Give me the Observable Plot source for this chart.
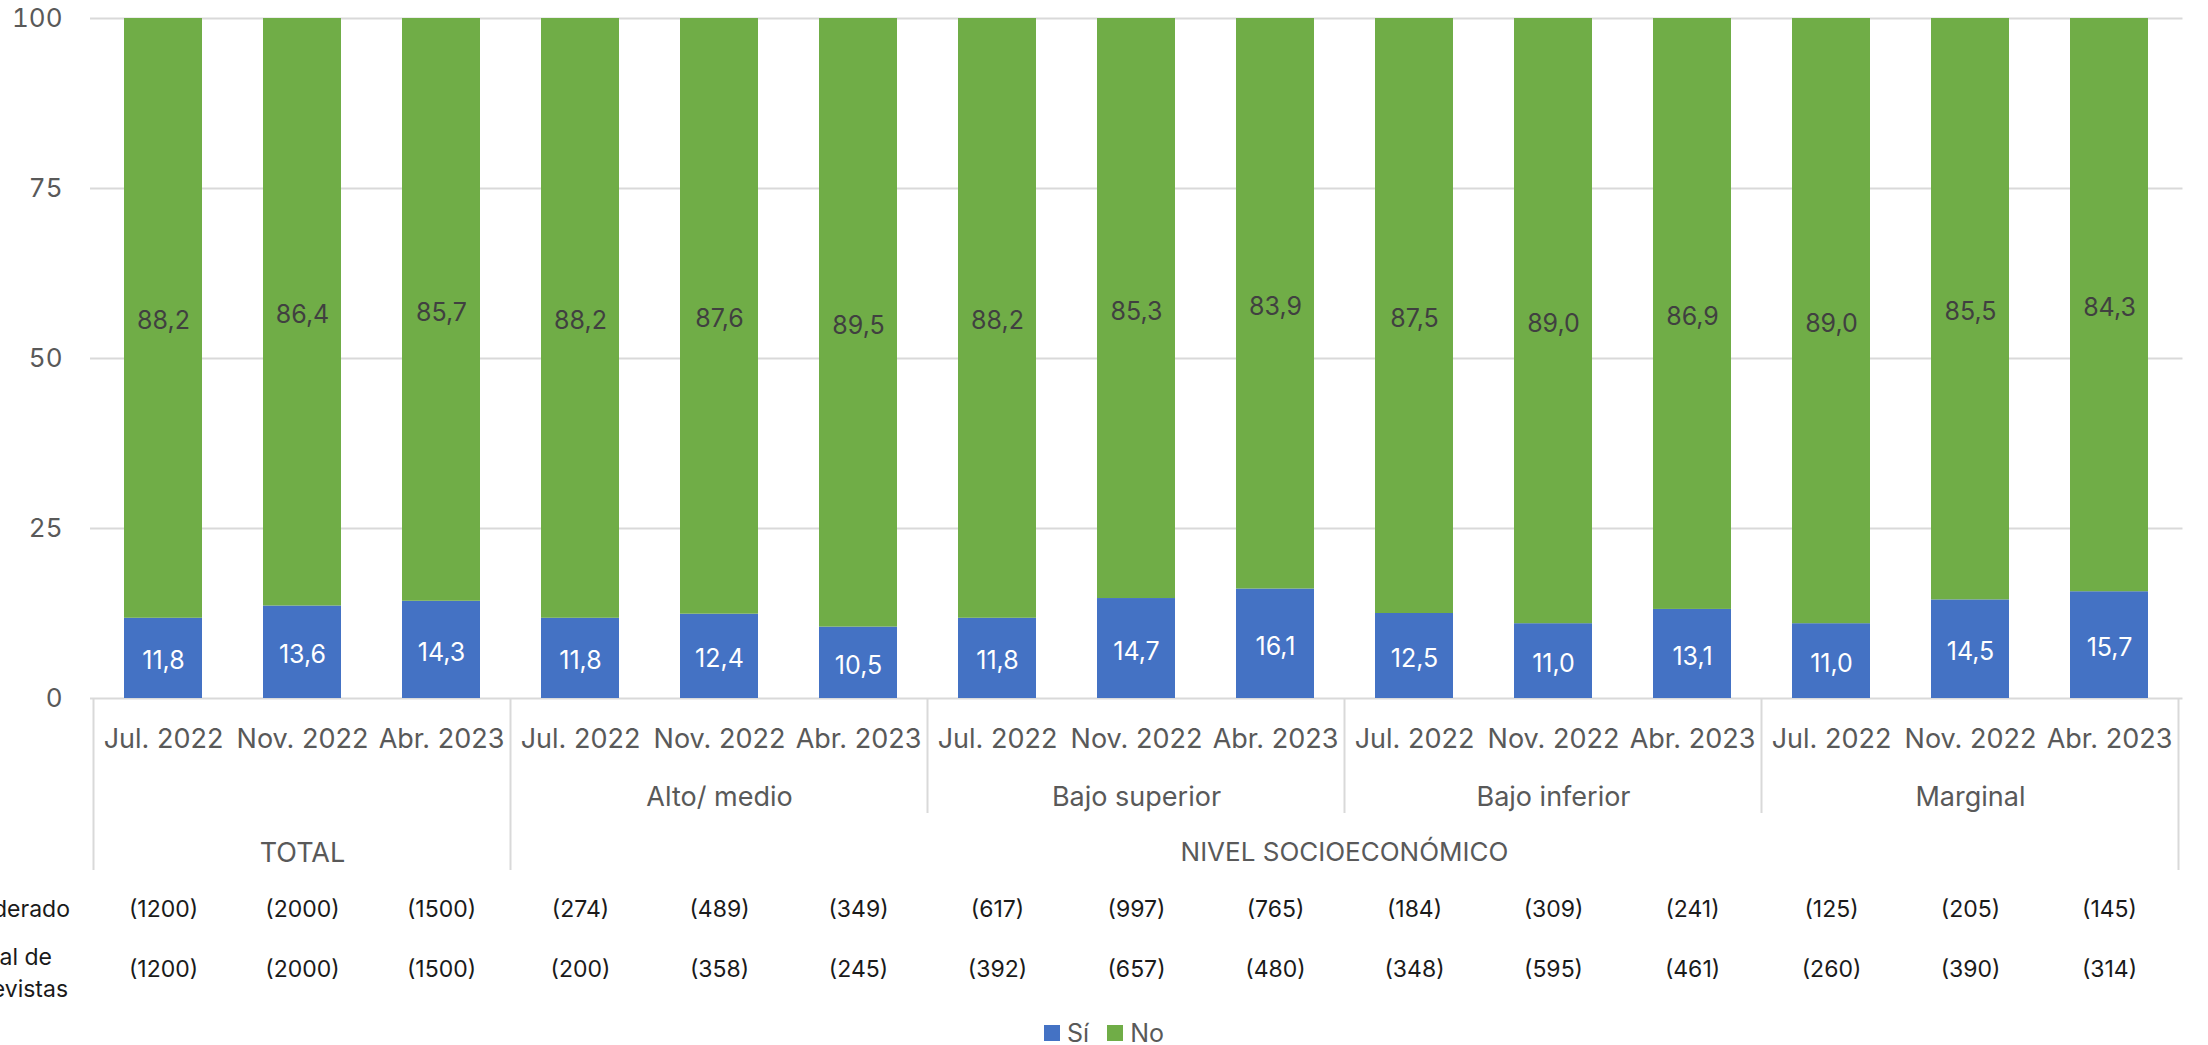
<!DOCTYPE html>
<html>
<head>
<meta charset="utf-8">
<script src="https://cdn.jsdelivr.net/npm/d3@7"></script>
<script src="https://cdn.jsdelivr.net/npm/@observablehq/plot@0.6"></script>
<style>
  html, body { margin: 0; padding: 0; background: #fff; }
  body { width: 2208px; height: 1045px; overflow: hidden; font-family: Inter, "Noto Sans", sans-serif; }
  #legend { margin-top: 4px; height: 33px; display: flex; justify-content: center; align-items: center; font-size: 25px; color: #595959; }
  .item { display: flex; align-items: center; margin: 0 9px; }
  .sw { width: 16px; height: 16px; margin-right: 7px; }
</style>
</head>
<body>
<div id="chart"></div>
<div id="legend"></div>
<script>
const groups = ["TOTAL", "Alto/ medio", "Bajo superior", "Bajo inferior", "Marginal"];
const superGroup = "NIVEL SOCIOECONÓMICO";
const periods = ["Jul. 2022", "Nov. 2022", "Abr. 2023"];
const seriesNames = ["Sí", "No"];
const seriesColors = ["#4472C4", "#70AD47"];
const si = [11.8, 13.6, 14.3, 11.8, 12.4, 10.5, 11.8, 14.7, 16.1, 12.5, 11.0, 13.1, 11.0, 14.5, 15.7];
const no = [88.2, 86.4, 85.7, 88.2, 87.6, 89.5, 88.2, 85.3, 83.9, 87.5, 89.0, 86.9, 89.0, 85.5, 84.3];
const rowLabels = ["Ponderado", "Total de\nentrevistas"];
const ponderado = [1200, 2000, 1500, 274, 489, 349, 617, 997, 765, 184, 309, 241, 125, 205, 145];
const entrevistas = [1200, 2000, 1500, 200, 358, 245, 392, 657, 480, 348, 595, 461, 260, 390, 314];
const yTicks = [0, 25, 50, 75, 100];

const keys = [];
groups.forEach(g => periods.forEach(p => keys.push(g + "|" + p)));
const long = [];
keys.forEach((k, i) => {
  long.push({key: k, serie: seriesNames[0], value: si[i]});
  long.push({key: k, serie: seriesNames[1], value: no[i]});
});
const fmt = v => v.toFixed(1).replace(".", ",");
const groupLabels = groups.slice(1).map(g => ({key: g + "|" + periods[1], label: g}));
const totalLabel = [{key: groups[0] + "|" + periods[1], label: groups[0]}];

const lineColor = "#d9d9d9";

// table separators + super-group label, placed through the x band scale
const tableGrid = (index, scales, values, dims) => {
  const sx = scales.x;
  const bw = typeof sx.bandwidth === "function" ? sx.bandwidth() : sx.bandwidth;
  const step = typeof sx.step === "function" ? sx.step() : sx.step;
  const half = (step - bw) / 2;
  const y0 = dims.height - dims.marginBottom;
  const left = k => sx(k) - half;
  const right = k => sx(k) + bw + half;
  const lines = groups.map((g, gi) => ({x: left(g + "|" + periods[0]), long: gi <= 1}));
  lines.push({x: right(keys[keys.length - 1]), long: true});
  const g = d3.create("svg:g");
  g.selectAll("line").data(lines).join("line")
    .attr("x1", d => d.x).attr("x2", d => d.x)
    .attr("y1", y0).attr("y2", d => y0 + (d.long ? 172 : 115))
    .attr("stroke", lineColor).attr("stroke-width", 2);
  const cx = (left(groups[1] + "|" + periods[0]) + right(groups[4] + "|" + periods[2])) / 2;
  g.append("text").attr("x", cx).attr("y", y0 + 155).attr("dy", "0.32em")
    .attr("text-anchor", "middle").attr("font-size", 26).attr("fill", "#595959")
    .text(superGroup);
  return g.node();
};

const chart = Plot.plot({
  width: 2208,
  height: 1012,
  marginLeft: 90,
  marginRight: 25.5,
  marginTop: 18,
  marginBottom: 314,
  style: {fontFamily: "Inter, 'Noto Sans', sans-serif", color: "#595959", background: "#fff", overflow: "visible"},
  x: {domain: keys, paddingInner: 0.44, paddingOuter: 0.22, align: 0.5},
  y: {domain: [0, 100]},
  color: {domain: seriesNames, range: seriesColors},
  marks: [
    Plot.gridY(yTicks, {stroke: lineColor, strokeOpacity: 1, strokeWidth: 2}),
    Plot.barY(long, Plot.stackY({x: "key", y: "value", fill: "serie", order: seriesNames})),
    Plot.text(long, Plot.stackY({x: "key", y: "value", z: "serie", order: seriesNames, dy: 3,
      text: d => d.serie === seriesNames[0] ? fmt(d.value) : null, fill: "white", fontSize: 25})),
    Plot.text(long, Plot.stackY({x: "key", y: "value", z: "serie", order: seriesNames, dy: 3,
      text: d => d.serie === seriesNames[1] ? fmt(d.value) : null, fill: "#404040", fontSize: 25})),
    Plot.axisY(yTicks, {tickSize: 0, tickPadding: 28, fontSize: 26, label: null, fill: "#595959"}),
    Plot.axisX({tickSize: 0, tickPadding: 30, fontSize: 27, label: null, fill: "#595959",
      tickFormat: d => d.split("|")[1]}),
    Plot.text(groupLabels, {x: "key", text: "label", frameAnchor: "bottom", lineAnchor: "middle", dy: 99, fontSize: 27, fill: "#595959"}),
    Plot.text(totalLabel, {x: "key", text: "label", frameAnchor: "bottom", lineAnchor: "middle", dy: 155, fontSize: 27, fill: "#595959"}),
    tableGrid,
    Plot.text(keys, {x: d => d, text: (d, i) => `(${ponderado[i]})`, frameAnchor: "bottom", lineAnchor: "middle", dy: 211, fontSize: 23, fill: "#1a1a1a"}),
    Plot.text(keys, {x: d => d, text: (d, i) => `(${entrevistas[i]})`, frameAnchor: "bottom", lineAnchor: "middle", dy: 271, fontSize: 23, fill: "#1a1a1a"}),
    Plot.text([rowLabels[0]], {text: d => d, frameAnchor: "bottom-left", lineAnchor: "middle", dx: -80, dy: 211, textAnchor: "middle", fontSize: 23, fill: "#1a1a1a"}),
    Plot.text([rowLabels[1]], {text: d => d, frameAnchor: "bottom-left", dx: -82, dy: 272, textAnchor: "middle", lineAnchor: "middle", lineHeight: 1.4, fontSize: 23, fill: "#1a1a1a"})
  ]
});
document.getElementById("chart").appendChild(chart);

const legend = d3.select("#legend");
seriesNames.forEach((s, i) => {
  const it = legend.append("div").attr("class", "item");
  it.append("div").attr("class", "sw").style("background", seriesColors[i]);
  it.append("span").text(s);
});
</script>
</body>
</html>
